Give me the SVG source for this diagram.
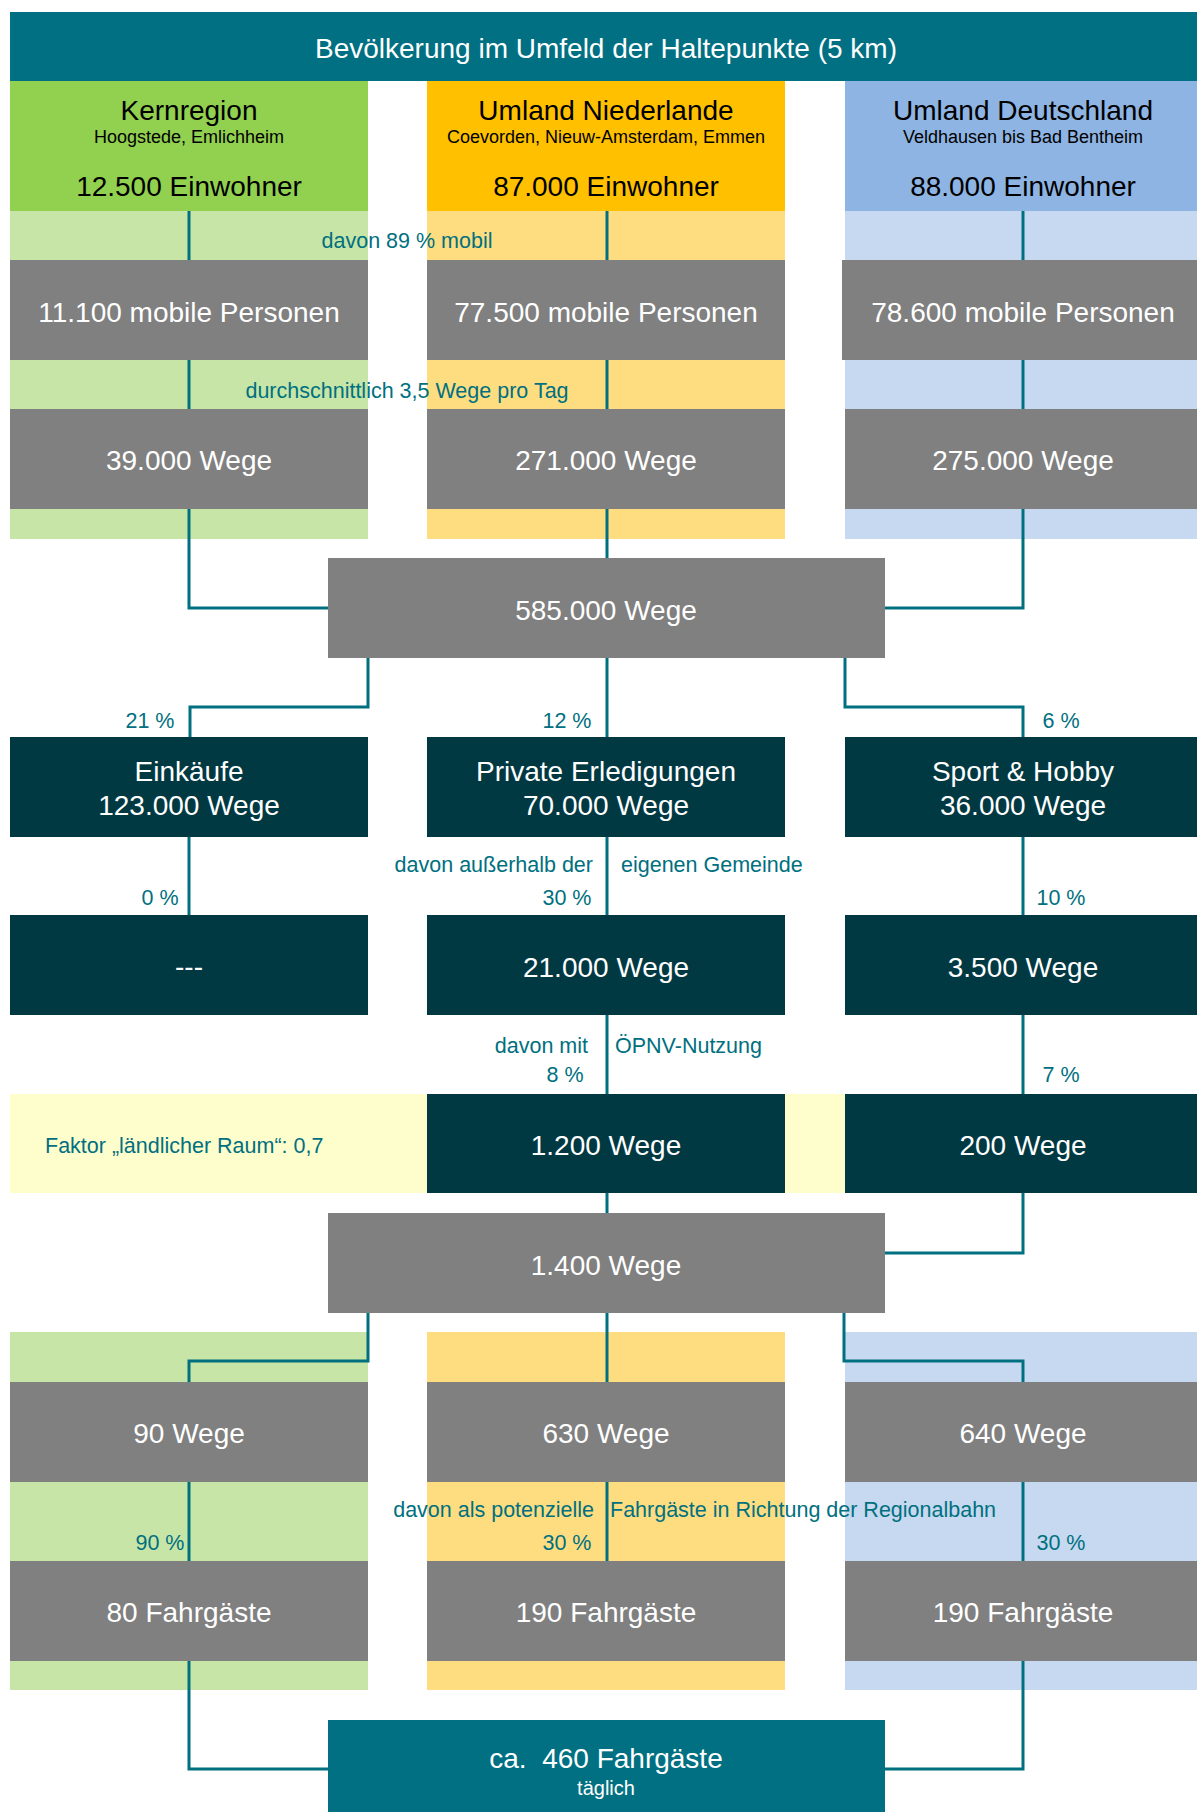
<svg xmlns="http://www.w3.org/2000/svg" width="1197" height="1812" viewBox="0 0 1197 1812">
<style>
text{font-family:"Liberation Sans",Arial,sans-serif}
.bg-g{fill:#C7E5A6}.bg-o{fill:#FEDD80}.bg-b{fill:#C6D9F0}.bg-y{fill:#FEFDCC}
.hd-g{fill:#92D050}.hd-o{fill:#FFC000}.hd-b{fill:#8EB4E3}
.gray{fill:#808080}.dark{fill:#013943}.teal{fill:#007082}
.big{font-size:28px;text-anchor:middle}
.sub{font-size:18px;text-anchor:middle}
.w{fill:#fff}.k{fill:#000}
.lbl{font-size:21.5px;fill:#007080}
.m{text-anchor:middle}.e{text-anchor:end}.s{text-anchor:start}
.conn path{stroke:#007080;stroke-width:3;fill:none}
</style>

<g id="backgrounds">
<rect class="bg-g" x="10" y="211" width="358" height="328"/>
<rect class="bg-o" x="427" y="211" width="358" height="328"/>
<rect class="bg-b" x="845" y="211" width="352" height="328"/>
<rect class="bg-y" x="10" y="1094" width="835" height="99"/>
<rect class="bg-g" x="10" y="1332" width="358" height="358"/>
<rect class="bg-o" x="427" y="1332" width="358" height="358"/>
<rect class="bg-b" x="845" y="1332" width="352" height="358"/>
</g>

<g id="connectors" class="conn">
<path d="M189,211 V608 H328"/>
<path d="M607,211 V558"/>
<path d="M1023,211 V608 H885"/>
<path d="M368,658 V707 H190 V737"/>
<path d="M607,658 V737"/>
<path d="M845,658 V707 H1023 V737"/>
<path d="M189,837 V915"/>
<path d="M607,837 V1213"/>
<path d="M1023,837 V1253 H885"/>
<path d="M368,1313 V1361 H189 V1382"/>
<path d="M607,1313 V1382"/>
<path d="M844,1313 V1361 H1023 V1382"/>
<path d="M189,1482 V1561"/>
<path d="M607,1482 V1561"/>
<path d="M1023,1482 V1561"/>
<path d="M189,1661 V1769 H328"/>
<path d="M1023,1661 V1769 H885"/>
</g>

<g id="title">
<rect class="teal" x="10" y="12" width="1187" height="69"/>
<text class="big w" x="606" y="58">Bevölkerung im Umfeld der Haltepunkte (5 km)</text>
</g>

<g id="head-kern">
<rect class="hd-g" x="10" y="81" width="358" height="130"/>
<text class="big k" x="189" y="120">Kernregion</text>
<text class="sub k" x="189" y="143">Hoogstede, Emlichheim</text>
<text class="big k" x="189" y="196">12.500 Einwohner</text>
</g>
<g id="head-nl">
<rect class="hd-o" x="427" y="81" width="358" height="130"/>
<text class="big k" x="606" y="120">Umland Niederlande</text>
<text class="sub k" x="606" y="143">Coevorden, Nieuw-Amsterdam, Emmen</text>
<text class="big k" x="606" y="196">87.000 Einwohner</text>
</g>
<g id="head-de">
<rect class="hd-b" x="845" y="81" width="352" height="130"/>
<text class="big k" x="1023" y="120">Umland Deutschland</text>
<text class="sub k" x="1023" y="143">Veldhausen bis Bad Bentheim</text>
<text class="big k" x="1023" y="196">88.000 Einwohner</text>
</g>

<g id="mob-kern"><rect class="gray" x="10" y="260" width="358" height="100"/><text class="big w" x="189" y="322">11.100 mobile Personen</text></g>
<g id="mob-nl"><rect class="gray" x="427" y="260" width="358" height="100"/><text class="big w" x="606" y="322">77.500 mobile Personen</text></g>
<g id="mob-de"><rect class="gray" x="842" y="260" width="355" height="100"/><text class="big w" x="1023" y="322">78.600 mobile Personen</text></g>

<g id="wege-kern"><rect class="gray" x="10" y="409" width="358" height="100"/><text class="big w" x="189" y="470">39.000 Wege</text></g>
<g id="wege-nl"><rect class="gray" x="427" y="409" width="358" height="100"/><text class="big w" x="606" y="470">271.000 Wege</text></g>
<g id="wege-de"><rect class="gray" x="845" y="409" width="352" height="100"/><text class="big w" x="1023" y="470">275.000 Wege</text></g>

<g id="wege-sum"><rect class="gray" x="328" y="558" width="557" height="100"/><text class="big w" x="606" y="620">585.000 Wege</text></g>

<g id="einkaeufe"><rect class="dark" x="10" y="737" width="358" height="100"/><text class="big w" x="189" y="781">Einkäufe</text><text class="big w" x="189" y="815">123.000 Wege</text></g>
<g id="private"><rect class="dark" x="427" y="737" width="358" height="100"/><text class="big w" x="606" y="781">Private Erledigungen</text><text class="big w" x="606" y="815">70.000 Wege</text></g>
<g id="sport"><rect class="dark" x="845" y="737" width="352" height="100"/><text class="big w" x="1023" y="781">Sport &amp; Hobby</text><text class="big w" x="1023" y="815">36.000 Wege</text></g>

<g id="ext-kern"><rect class="dark" x="10" y="915" width="358" height="100"/><text class="big w" x="189" y="976">---</text></g>
<g id="ext-nl"><rect class="dark" x="427" y="915" width="358" height="100"/><text class="big w" x="606" y="977">21.000 Wege</text></g>
<g id="ext-de"><rect class="dark" x="845" y="915" width="352" height="100"/><text class="big w" x="1023" y="977">3.500 Wege</text></g>

<g id="oepnv-nl"><rect class="dark" x="427" y="1094" width="358" height="99"/><text class="big w" x="606" y="1155">1.200 Wege</text></g>
<g id="oepnv-de"><rect class="dark" x="845" y="1094" width="352" height="99"/><text class="big w" x="1023" y="1155">200 Wege</text></g>

<g id="oepnv-sum"><rect class="gray" x="328" y="1213" width="557" height="100"/><text class="big w" x="606" y="1275">1.400 Wege</text></g>

<g id="anteil-kern"><rect class="gray" x="10" y="1382" width="358" height="100"/><text class="big w" x="189" y="1443">90 Wege</text></g>
<g id="anteil-nl"><rect class="gray" x="427" y="1382" width="358" height="100"/><text class="big w" x="606" y="1443">630 Wege</text></g>
<g id="anteil-de"><rect class="gray" x="845" y="1382" width="352" height="100"/><text class="big w" x="1023" y="1443">640 Wege</text></g>

<g id="fg-kern"><rect class="gray" x="10" y="1561" width="358" height="100"/><text class="big w" x="189" y="1622">80 Fahrgäste</text></g>
<g id="fg-nl"><rect class="gray" x="427" y="1561" width="358" height="100"/><text class="big w" x="606" y="1622">190 Fahrgäste</text></g>
<g id="fg-de"><rect class="gray" x="845" y="1561" width="352" height="100"/><text class="big w" x="1023" y="1622">190 Fahrgäste</text></g>

<g id="total">
<rect class="teal" x="328" y="1720" width="557" height="92"/>
<text class="big w" x="606" y="1768" xml:space="preserve">ca.  460 Fahrgäste</text>
<text class="w" x="606" y="1795" style="font-size:20px;text-anchor:middle">täglich</text>
</g>

<g id="labels">
<text class="lbl m" x="407" y="248">davon 89 % mobil</text>
<text class="lbl m" x="407" y="398">durchschnittlich 3,5 Wege pro Tag</text>
<text class="lbl m" x="150" y="728">21 %</text>
<text class="lbl m" x="567" y="728">12 %</text>
<text class="lbl m" x="1061" y="728">6 %</text>
<text class="lbl e" x="593" y="872">davon außerhalb der</text>
<text class="lbl s" x="621" y="872">eigenen Gemeinde</text>
<text class="lbl m" x="160" y="905">0 %</text>
<text class="lbl m" x="567" y="905">30 %</text>
<text class="lbl m" x="1061" y="905">10 %</text>
<text class="lbl e" x="588" y="1053">davon mit</text>
<text class="lbl s" x="615" y="1053">ÖPNV-Nutzung</text>
<text class="lbl m" x="565" y="1082">8 %</text>
<text class="lbl m" x="1061" y="1082">7 %</text>
<text class="lbl s" x="45" y="1153">Faktor „ländlicher Raum“: 0,7</text>
<text class="lbl e" x="594" y="1517">davon als potenzielle</text>
<text class="lbl s" x="610" y="1517">Fahrgäste in Richtung der Regionalbahn</text>
<text class="lbl m" x="160" y="1550">90 %</text>
<text class="lbl m" x="567" y="1550">30 %</text>
<text class="lbl m" x="1061" y="1550">30 %</text>
</g>
</svg>
